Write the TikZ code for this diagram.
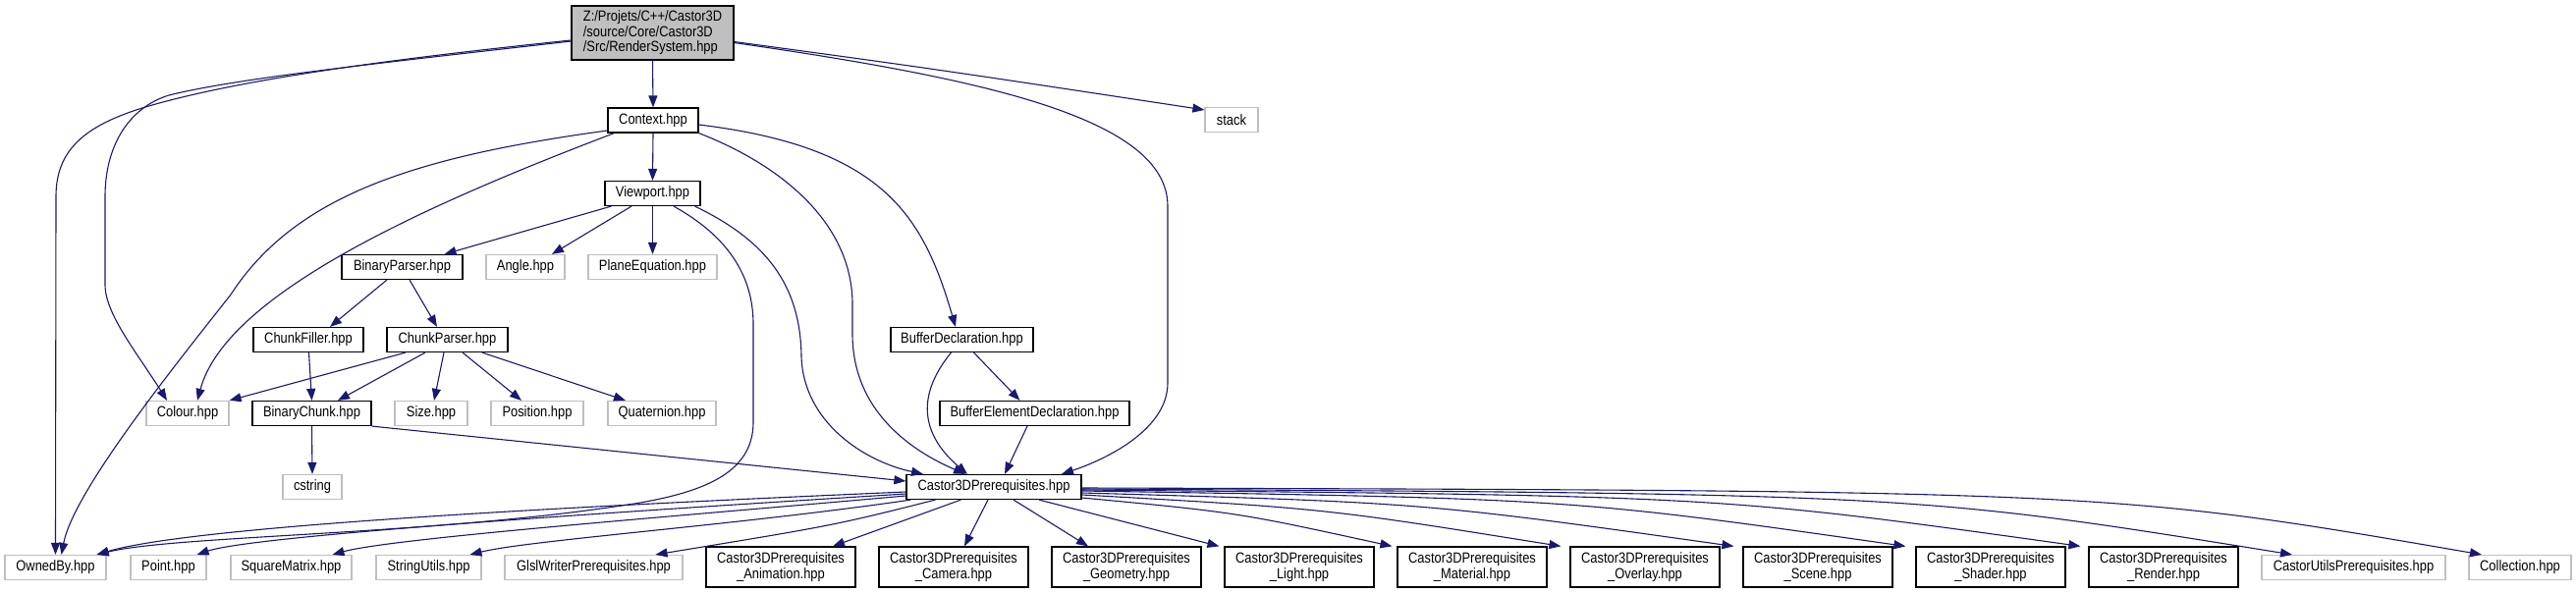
\documentclass[tikz,border=0pt]{standalone}
\usepackage{fontspec}
\setmainfont{Liberation Sans}[FakeStretch=0.86]
\usetikzlibrary{arrows.meta,calc}
\definecolor{edgeblue}{HTML}{191970}
\definecolor{gborder}{HTML}{BFBFBF}
\definecolor{rootfill}{HTML}{BFBFBF}
\newcommand\lblfont{\fontsize{15pt}{15.5pt}\selectfont}
\begin{document}
\begin{tikzpicture}[x=1pt,y=-1pt,
  box/.style={rectangle, inner sep=0pt, minimum height=25pt, font=\lblfont, line width=1.2pt},
  docbox/.style={box, draw=black, fill=white},
  extbox/.style={box, draw=gborder, fill=white},
  twoline/.style={docbox, minimum height=41pt, minimum width=152pt, align=center},
  dep/.style={draw=edgeblue, line width=1.1pt, -{Triangle[length=12pt,width=9pt]}}
]
\fill[white] (0,0) rectangle (2623,604);
\useasboundingbox (0,0) rectangle (2623,604);

% nodes
\node[box, draw=black, fill=rootfill, minimum width=165pt, minimum height=55pt, align=left] (root) at (664.5,33.5) {Z:/Projets/C++/Castor3D\\/source/Core/Castor3D\\/Src/RenderSystem.hpp};
\node[docbox, minimum width=92pt] (ctx) at (665,122.5) {Context.hpp};
\node[extbox, minimum width=54pt] (stack) at (1254,122) {stack};
\node[docbox, minimum width=97pt] (vp) at (664.5,197) {Viewport.hpp};
\node[docbox, minimum width=123pt] (bp) at (409.5,272) {BinaryParser.hpp};
\node[extbox, minimum width=80pt] (angle) at (535,272) {Angle.hpp};
\node[extbox, minimum width=131pt] (plane) at (664.5,272) {PlaneEquation.hpp};
\node[docbox, minimum width=112pt] (cf) at (314,346) {ChunkFiller.hpp};
\node[docbox, minimum width=123pt] (cp) at (455.5,346) {ChunkParser.hpp};
\node[docbox, minimum width=145pt] (bd) at (979.5,346) {BufferDeclaration.hpp};
\node[extbox, minimum width=84pt] (colour) at (191,421) {Colour.hpp};
\node[docbox, minimum width=121pt] (bc) at (317.5,421) {BinaryChunk.hpp};
\node[extbox, minimum width=74pt] (size) at (439,421) {Size.hpp};
\node[extbox, minimum width=94pt] (pos) at (547,421) {Position.hpp};
\node[extbox, minimum width=110pt] (quat) at (674,421) {Quaternion.hpp};
\node[docbox, minimum width=193pt] (bed) at (1053.5,421) {BufferElementDeclaration.hpp};
\node[extbox, minimum width=60pt] (cstring) at (318,496) {cstring};
\node[docbox, minimum width=178pt] (c3d) at (1012,496) {Castor3DPrerequisites.hpp};
\node[extbox, minimum width=103pt] (owned) at (56.5,578) {OwnedBy.hpp};
\node[extbox, minimum width=77pt] (point) at (171.5,578) {Point.hpp};
\node[extbox, minimum width=123pt] (sqm) at (296.5,578) {SquareMatrix.hpp};
\node[extbox, minimum width=107pt] (su) at (436.5,578) {StringUtils.hpp};
\node[extbox, minimum width=181pt] (glsl) at (604.5,578) {GlslWriterPrerequisites.hpp};
\node[twoline] (anim) at (795,577.5) {Castor3DPrerequisites\\\_Animation.hpp};
\node[twoline] (cam) at (971,577.5) {Castor3DPrerequisites\\\_Camera.hpp};
\node[twoline] (geo) at (1147,577.5) {Castor3DPrerequisites\\\_Geometry.hpp};
\node[twoline] (light) at (1323,577.5) {Castor3DPrerequisites\\\_Light.hpp};
\node[twoline] (mat) at (1499,577.5) {Castor3DPrerequisites\\\_Material.hpp};
\node[twoline] (ovl) at (1675,577.5) {Castor3DPrerequisites\\\_Overlay.hpp};
\node[twoline] (scene) at (1851,577.5) {Castor3DPrerequisites\\\_Scene.hpp};
\node[twoline] (shader) at (2027,577.5) {Castor3DPrerequisites\\\_Shader.hpp};
\node[twoline] (render) at (2203,577.5) {Castor3DPrerequisites\\\_Render.hpp};
\node[extbox, minimum width=187pt] (cup) at (2396.5,578) {CastorUtilsPrerequisites.hpp};
\node[extbox, minimum width=104pt] (coll) at (2566,578) {Collection.hpp};

% root
\draw[dep] (root.south) -- (ctx.north);
\draw[dep] ($(root.west)+(0,7.5)$) .. controls (400,60) and (250,80) .. (155,107) .. controls (90,125.5) and (57,150) .. (57,200) -- (owned.north);
\draw[dep] ($(root.west)+(0,8.5)$) .. controls (380,65) and (240,80) .. (172,97) .. controls (130,110) and (107,150) .. (107,200) -- (107,290) .. controls (107,320) and (140,360) .. ($(colour.north)+(-21,0)$);
\draw[dep] ($(root.east)+(0,9)$) .. controls (950,70) .. ($(stack.north west)+(0,3)$);
\draw[dep] ($(root.east)+(0,10)$) .. controls (1000,80) and (1189,120) .. (1189,210) -- (1189,390) .. controls (1189,440) and (1120,470) .. ($(c3d.north)+(69,0)$);

% context
\draw[dep] (ctx.south) -- (vp.north);
\draw[dep] ($(ctx.west)+(0,10.5)$) .. controls (420,160) and (300,200) .. (235,300) .. controls (180,370) and (75,500) .. ($(owned.north)+(6,0)$);
\draw[dep] ($(ctx.south west)+(7,0)$) .. controls (430,210) and (230,300) .. ($(colour.north)+(10,0)$);
\draw[dep] (ctx.south east) .. controls (800,170) and (868,230) .. (868,310) -- (868,340) .. controls (868,420) and (930,460) .. ($(c3d.north)+(-29,0)$);
\draw[dep] ($(ctx.east)+(0,4.5)$) .. controls (900,150) and (940,220) .. ($(bd.north)+(-6.5,0)$);

% viewport
\draw[dep] ($(vp.south west)+(7,0)$) -- ($(bp.north)+(43,0)$);
\draw[dep] ($(vp.south)+(-21.5,0)$) -- ($(angle.north)+(27,0)$);
\draw[dep] (vp.south) -- (plane.north);
\draw[dep] ($(vp.south)+(21.5,0)$) .. controls (740,240) and (767,280) .. (767,330) -- (767,430) .. controls (767,480) and (720,500) .. (652,512) .. controls (450,545) and (180,545) .. ($(owned.north east)+(-10,0)$);
\draw[dep] ($(vp.south east)+(-6,0)$) .. controls (780,245) and (815,290) .. (816,363) .. controls (818,430) and (880,470) .. ($(c3d.north)+(-72,0)$);

% binary parser, chunk parser, chunk filler
\draw[dep] ($(bp.south)+(-15.5,0)$) -- ($(cf.north)+(22,0)$);
\draw[dep] ($(bp.south)+(7.5,0)$) -- ($(cp.north)+(-10.5,0)$);
\draw[dep] ($(cf.south)+(0.5,0)$) -- (bc.north);
\draw[dep] ($(cp.south)+(-42.5,0)$) -- (colour.north east);
\draw[dep] ($(cp.south)+(-22.5,0)$) -- ($(bc.north)+(26.5,0)$);
\draw[dep] ($(cp.south)+(-3.5,0)$) -- ($(size.north)+(3,0)$);
\draw[dep] ($(cp.south)+(15.5,0)$) -- ($(pos.north)+(-16,0)$);
\draw[dep] ($(cp.south)+(35.5,0)$) -- ($(quat.north)+(-37,0)$);
\draw[dep] (bc.south) -- (cstring.north);
\draw[dep] (bc.south east) -- ($(c3d.west)+(0,-6)$);

% buffers
\draw[dep] ($(bd.south)+(-11,0)$) .. controls (935,400) and (935,440) .. ($(c3d.north)+(-27,0)$);
\draw[dep] ($(bd.south)+(12,0)$) -- ($(bed.north)+(-15,0)$);
\draw[dep] ($(bed.south)+(-7.5,0)$) -- ($(c3d.north)+(11,0)$);

% Castor3DPrerequisites fan
\draw[dep] ($(c3d.west)+(0,5)$) .. controls (600,515) and (200,535) .. ($(owned.north east)+(-10,0)$);
\draw[dep] ($(c3d.west)+(0,7)$) .. controls (650,520) and (260,545) .. ($(point.north east)+(-10,0)$);
\draw[dep] ($(c3d.west)+(0,9)$) .. controls (700,525) and (400,548) .. ($(sqm.north)+(42,0)$);
\draw[dep] ($(c3d.south west)+(5,0)$) .. controls (750,535) and (540,550) .. ($(su.north)+(42,0)$);
\draw[dep] ($(c3d.south west)+(30,0)$) .. controls (850,535) .. ($(glsl.north)+(63,0)$);
\draw[dep] ($(c3d.south west)+(56,0)$) -- ($(anim.north)+(53,0)$);
\draw[dep] ($(c3d.south)+(-6,0)$) -- ($(cam.north)+(11,0)$);
\draw[dep] ($(c3d.south)+(20,0)$) -- ($(geo.north)+(-39,0)$);
\draw[dep] ($(c3d.south)+(46,0)$) -- ($(light.north west)+(-5,0)$);
\draw[dep] ($(c3d.east)+(0,11)$) .. controls (1260,522) .. ($(mat.north west)+(-5,0)$);
\draw[dep] ($(c3d.east)+(0,8)$) .. controls (1350,518) .. ($(ovl.north west)+(-9,0)$);
\draw[dep] ($(c3d.east)+(0,6)$) .. controls (1450,512) .. ($(scene.north west)+(-9,0)$);
\draw[dep] ($(c3d.east)+(0,4)$) .. controls (1600,508) .. ($(shader.north west)+(-10,0)$);
\draw[dep] ($(c3d.east)+(0,3)$) .. controls (1750,505) .. ($(render.north west)+(-8,0)$);
\draw[dep] ($(c3d.east)+(0,2)$) .. controls (1950,503) .. ($(cup.north)+(-62.5,0)$);
\draw[dep] ($(c3d.east)+(0,1)$) .. controls (2150,500) .. ($(coll.north)+(-39,0)$);
\end{tikzpicture}
\end{document}
